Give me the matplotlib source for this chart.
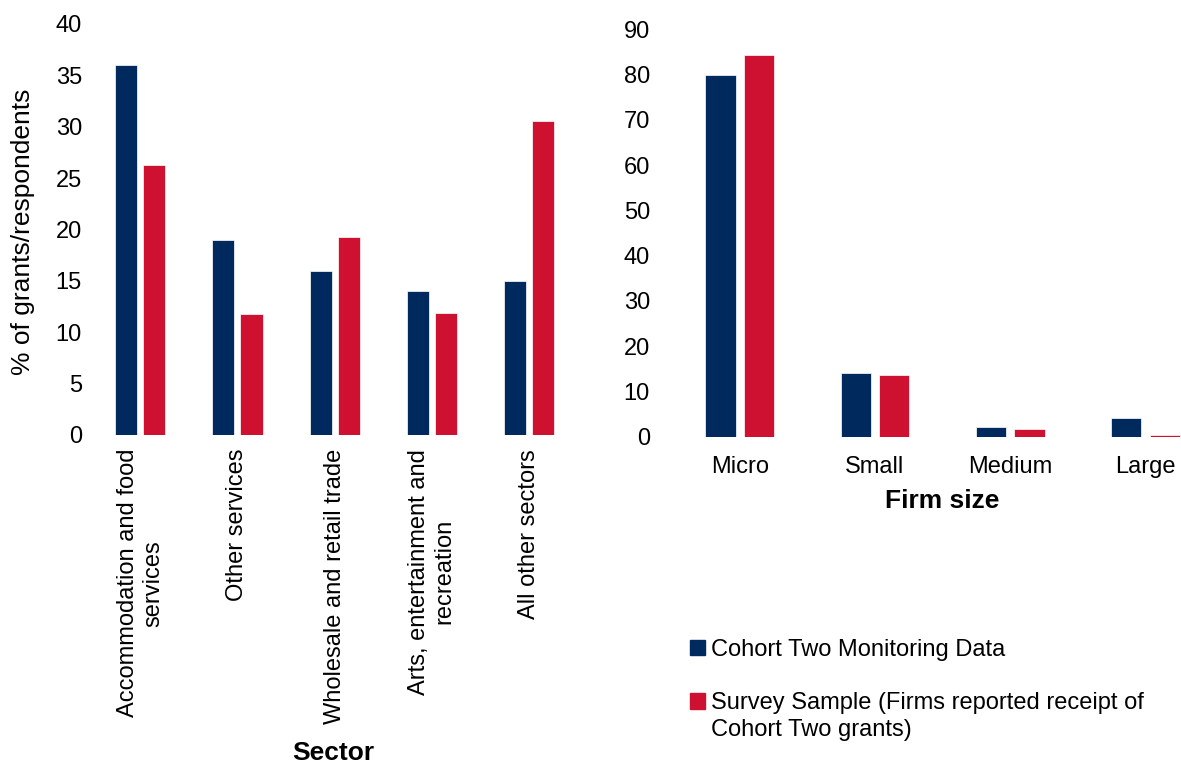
import matplotlib
matplotlib.use("Agg")
import matplotlib.pyplot as plt
import numpy as np
from matplotlib.patches import Patch

plt.rcParams["font.family"] = ["Liberation Sans", "DejaVu Sans"]

NAVY = "#002A5E"
RED = "#CE1130"
FONT = 17
TITLE_FONT = 19

# second series label wraps onto two lines; each line gets its own legend row
SERIES_LABELS = [
    "Cohort Two Monitoring Data",
    "Survey Sample (Firms reported receipt of",
    "Cohort Two grants)",
]

SECTORS = [
    "Accommodation and food\nservices",
    "Other services",
    "Wholesale and retail trade",
    "Arts, entertainment and\nrecreation",
    "All other sectors",
]
SECTOR_MONITORING = [36, 19, 16, 14, 15]
SECTOR_SURVEY = [26.3, 11.8, 19.3, 11.9, 30.6]

SIZES = ["Micro", "Small", "Medium", "Large"]
SIZE_MONITORING = [80, 14, 2.0, 4.0]
SIZE_SURVEY = [84.3, 13.5, 1.7, 0.3]


def paired_bars(ax, labels, first, second, width, offset):
    x = np.arange(len(labels))
    ax.bar(x - offset, first, width, color=NAVY, edgecolor="white", linewidth=0.5)
    ax.bar(x + offset, second, width, color=RED, edgecolor="white", linewidth=0.5)
    ax.set_xlim(-0.5, len(labels) - 0.5)
    for side in ("top", "right", "bottom", "left"):
        ax.spines[side].set_visible(False)
    ax.tick_params(length=0, labelsize=FONT)
    return x


fig = plt.figure(figsize=(11.81, 7.64), dpi=100)

# Sector panel
ax1 = fig.add_axes([91.6 / 1181, 1 - 435 / 764, 486.2 / 1181, 411 / 764])
x1 = paired_bars(ax1, SECTORS, SECTOR_MONITORING, SECTOR_SURVEY, 0.228, 0.145)
ax1.set_ylim(0, 40)
ax1.set_yticks(range(0, 41, 5))
ax1.set_xticks(x1)
ax1.set_xticklabels(SECTORS, rotation=90, va="top", ha="center",
                    multialignment="center")
ax1.tick_params(axis="x", pad=10)
ax1.tick_params(axis="y", pad=7)
ax1.set_ylabel("% of grants/respondents", fontsize=19)
ax1.yaxis.set_label_coords(-0.116, 0.495)
ax1.text(0.498, -0.774, "Sector", transform=ax1.transAxes, ha="center",
         va="center", fontsize=TITLE_FONT, fontweight="bold")

# Firm size panel
ax2 = fig.add_axes([672.2 / 1181, 1 - 436.5 / 764, 540.8 / 1181, 407 / 764])
x2 = paired_bars(ax2, SIZES, SIZE_MONITORING, SIZE_SURVEY, 0.224, 0.143)
ax2.set_ylim(0, 90)
ax2.set_yticks(range(0, 91, 10))
ax2.set_xticks(x2)
ax2.set_xticklabels(SIZES)
ax2.tick_params(axis="x", pad=14)
ax2.tick_params(axis="y", pad=16)
ax2.text(0.499, -0.158, "Firm size", transform=ax2.transAxes, ha="center",
         va="center", fontsize=TITLE_FONT, fontweight="bold")

blank = Patch(visible=False)
handles = [Patch(color=NAVY), blank, Patch(color=RED), blank]
labels = [SERIES_LABELS[0], " ", SERIES_LABELS[1], SERIES_LABELS[2]]
fig.legend(handles, labels, loc="upper left",
           bbox_to_anchor=(690 / 1181, 1 - 639 / 764), frameon=False,
           fontsize=FONT, borderpad=0, borderaxespad=0,
           handlelength=0.62, handleheight=0.62, handletextpad=0.25,
           labelspacing=0.2)

fig.savefig("out.png", dpi=100)
